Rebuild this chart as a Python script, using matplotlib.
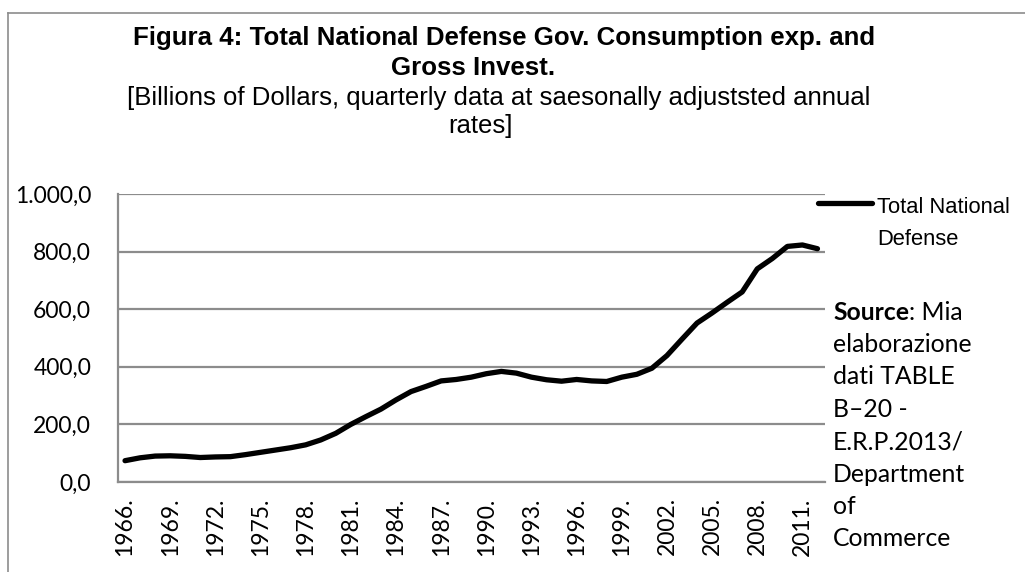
import matplotlib
matplotlib.use("Agg")
import matplotlib.pyplot as plt
from matplotlib.lines import Line2D
from matplotlib import font_manager
import numpy as np

# ---- data -------------------------------------------------------------
years = list(range(1966, 2013))
defense = [
    74, 84, 90, 91, 89, 85, 87, 88, 95, 103,
    111, 119, 129, 146, 169, 200, 227, 253, 285, 314,
    332, 351, 356, 364, 376, 384, 378, 364, 355, 350,
    356, 351, 349, 364, 374, 395, 439, 496, 552, 587,
    624, 660, 740, 776, 818, 823, 810,
]
series_label = "Total National Defense"
title_lines = [
    "Figura 4: Total National Defense Gov. Consumption exp. and",
    "Gross Invest.",
]
subtitle_lines = [
    "[Billions of Dollars, quarterly data at saesonally adjuststed annual",
    "rates]",
]
source_lines = ["elaborazione", "dati TABLE", "B\u201320 -", "E.R.P.2013/",
                "Department", "of", "Commerce"]
yticks = [0, 200, 400, 600, 800, 1000]

# ---- fonts ------------------------------------------------------------
available = {f.name for f in font_manager.fontManager.ttflist}
narrow = "Liberation Sans Narrow" if "Liberation Sans Narrow" in available else "Liberation Sans"
body = "Lato"

W, H = 1025, 572
fig = plt.figure(figsize=(W / 100, H / 100), dpi=100)
fig.patch.set_facecolor("white")


def fx(px):
    return px / W


def fy(py):
    return 1 - py / H


# outer chart frame (left and top edges)
fig.add_artist(Line2D([fx(7.5), fx(7.5)], [fy(12.5), fy(572)], color="#8c8c8c", lw=1.2))
fig.add_artist(Line2D([fx(7.5), fx(1025)], [fy(12.5), fy(12.5)], color="#8c8c8c", lw=1.2))

ax = fig.add_axes([fx(117.5), fy(482), fx(825) - fx(117.5), fy(194) - fy(482)])
x = np.arange(len(years))
ax.plot(x, defense, color="black", lw=3.8, solid_joinstyle="round",
        solid_capstyle="round", label=series_label, zorder=3)

ax.set_xlim(-0.5, len(years) - 0.5)
ax.set_ylim(0, 1000)
ax.set_yticks(yticks)


def it_fmt(v):
    s = f"{v:,.1f}"
    return s.replace(",", "X").replace(".", ",").replace("X", ".")


ax.set_yticklabels([it_fmt(v) for v in yticks], fontfamily=body, fontsize=16.5)
ax.yaxis.grid(True, color="#8c8c8c", lw=1.6)
ax.set_axisbelow(True)

tick_idx = x[::3]
ax.set_xticks(tick_idx)
ax.set_xticklabels([f"{years[i]}." for i in tick_idx], rotation=90,
                   fontfamily=body, fontsize=16.5)
ax.tick_params(axis="x", length=0, pad=11)
ax.tick_params(axis="y", length=0, pad=19)

for side in ("top", "right"):
    ax.spines[side].set_visible(False)
for side in ("left", "bottom"):
    ax.spines[side].set_color("#8c8c8c")
    ax.spines[side].set_linewidth(1.6)

# titles
fig.text(fx(504.5), fy(45), title_lines[0], ha="center", va="baseline",
         fontfamily=narrow, fontweight="bold", fontsize=18.6)
fig.text(fx(473), fy(75), title_lines[1], ha="center", va="baseline",
         fontfamily=narrow, fontweight="bold", fontsize=18.6)
fig.text(fx(499), fy(105), subtitle_lines[0], ha="center", va="baseline",
         fontfamily=narrow, fontsize=18.5)
fig.text(fx(480), fy(133), subtitle_lines[1], ha="center", va="baseline",
         fontfamily=narrow, fontsize=18.5)

# legend entry
fig.add_artist(Line2D([fx(818), fx(872)], [fy(203), fy(203)], color="black",
                      lw=3.8, solid_capstyle="round"))
fig.text(fx(877), fy(213), "Total National", ha="left", va="baseline",
         fontfamily=narrow, fontsize=15.8)
fig.text(fx(877), fy(245), "Defense", ha="left", va="baseline",
         fontfamily=narrow, fontsize=15.8)

# source note
sy = 312
t = fig.text(fx(833), fy(sy), "Source", ha="left", va="center",
             fontfamily=body, fontweight="bold", fontsize=17.8)
fig.canvas.draw()
bb = t.get_window_extent()
fig.text(bb.x1 / W, fy(sy), ": Mia", ha="left", va="center",
         fontfamily=body, fontsize=17.8)
for i, line in enumerate(source_lines):
    fig.text(fx(833), fy(sy + 32.4 * (i + 1)), line, ha="left", va="center",
             fontfamily=body, fontsize=17.8)

fig.savefig("out.png", dpi=100, facecolor="white")
